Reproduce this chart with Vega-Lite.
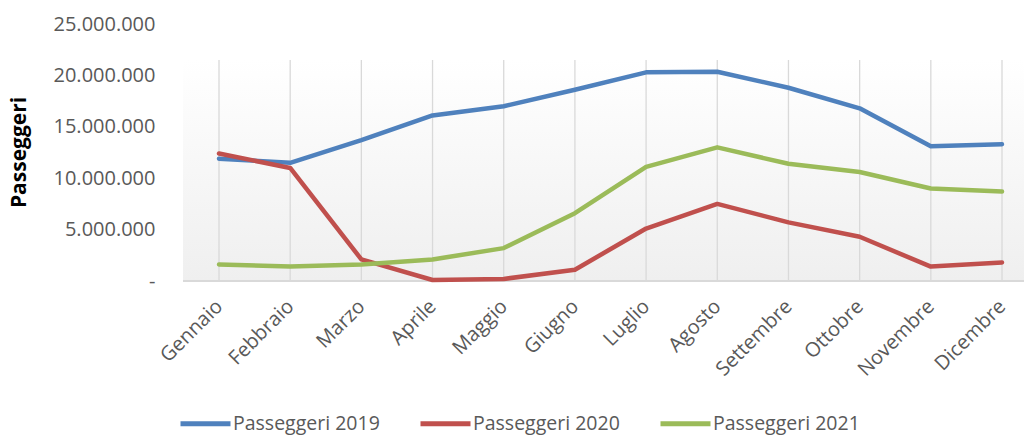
{
  "$schema": "https://vega.github.io/schema/vega-lite/v6.json",
  "autosize": {"type": "none"},
  "width": 841,
  "height": 257,
  "padding": {"left": 183, "top": 24, "right": 0, "bottom": 155},
  "config": {
    "font": "Open Sans",
    "view": {"stroke": null},
    "locale": {"number": {"decimal": ",", "thousands": ".", "grouping": [3], "currency": ["€", ""]}}
  },
  "data": {
    "values": [
      {"mese": "Gennaio", "Passeggeri 2019": 11900000, "Passeggeri 2020": 12400000, "Passeggeri 2021": 1600000},
      {"mese": "Febbraio", "Passeggeri 2019": 11500000, "Passeggeri 2020": 11000000, "Passeggeri 2021": 1400000},
      {"mese": "Marzo", "Passeggeri 2019": 13700000, "Passeggeri 2020": 2100000, "Passeggeri 2021": 1600000},
      {"mese": "Aprile", "Passeggeri 2019": 16100000, "Passeggeri 2020": 100000, "Passeggeri 2021": 2100000},
      {"mese": "Maggio", "Passeggeri 2019": 17000000, "Passeggeri 2020": 200000, "Passeggeri 2021": 3200000},
      {"mese": "Giugno", "Passeggeri 2019": 18600000, "Passeggeri 2020": 1100000, "Passeggeri 2021": 6600000},
      {"mese": "Luglio", "Passeggeri 2019": 20300000, "Passeggeri 2020": 5100000, "Passeggeri 2021": 11100000},
      {"mese": "Agosto", "Passeggeri 2019": 20350000, "Passeggeri 2020": 7500000, "Passeggeri 2021": 13000000},
      {"mese": "Settembre", "Passeggeri 2019": 18800000, "Passeggeri 2020": 5700000, "Passeggeri 2021": 11400000},
      {"mese": "Ottobre", "Passeggeri 2019": 16800000, "Passeggeri 2020": 4300000, "Passeggeri 2021": 10600000},
      {"mese": "Novembre", "Passeggeri 2019": 13100000, "Passeggeri 2020": 1400000, "Passeggeri 2021": 9000000},
      {"mese": "Dicembre", "Passeggeri 2019": 13300000, "Passeggeri 2020": 1800000, "Passeggeri 2021": 8700000}
    ]
  },
  "encoding": {
    "x": {
      "field": "mese",
      "type": "ordinal",
      "sort": null,
      "scale": {"type": "point", "range": [36, 819], "padding": 0},
      "axis": {
        "title": null,
        "domain": false,
        "ticks": false,
        "grid": false,
        "labelAngle": -45,
        "labelAlign": "right",
        "labelBaseline": "middle",
        "labelPadding": 22,
        "labelFontSize": 20,
        "labelColor": "#595959"
      }
    }
  },
  "layer": [
    {
      "data": {"values": [{"zona": "sfondo"}]},
      "mark": {
        "type": "rect",
        "color": {
          "gradient": "linear",
          "x1": 0, "y1": 0, "x2": 0, "y2": 1,
          "stops": [
            {"offset": 0, "color": "#ffffff"},
            {"offset": 1, "color": "#efefef"}
          ]
        }
      },
      "encoding": {
        "x": null,
        "y": {"datum": 0, "type": "quantitative", "scale": {"domain": [0, 25000000], "nice": false}},
        "y2": {"datum": 21500000}
      }
    },
    {
      "mark": {"type": "rule", "color": "#d9d9d9", "strokeWidth": 1.3},
      "encoding": {
        "y": {"datum": 0, "type": "quantitative"},
        "y2": {"datum": 21500000}
      }
    },
    {
      "data": {"values": [{"zona": "base"}]},
      "mark": {"type": "rule", "color": "#d9d9d9", "strokeWidth": 2},
      "encoding": {
        "x": null,
        "y": {"datum": 0, "type": "quantitative"}
      }
    },
    {
      "transform": [
        {"fold": ["Passeggeri 2019", "Passeggeri 2020", "Passeggeri 2021"], "as": ["serie", "valore"]}
      ],
      "mark": {"type": "line", "strokeWidth": 4.5, "strokeJoin": "round", "strokeCap": "round"},
      "encoding": {
        "y": {
          "field": "valore",
          "type": "quantitative",
          "scale": {"domain": [0, 25000000], "nice": false},
          "axis": {
            "title": "Passeggeri",
            "titleFontSize": 21,
            "titleFontWeight": "bold",
            "titleColor": "#000000",
            "titleAngle": -90,
            "titleAlign": "center",
            "titleBaseline": "bottom",
            "titleX": -154,
            "titleY": 128,
            "values": [0, 5000000, 10000000, 15000000, 20000000, 25000000],
            "format": ",d",
            "labelExpr": "datum.value == 0 ? '-\u00a0\u00a0' : datum.label",
            "domain": false,
            "ticks": false,
            "tickSize": 0,
            "grid": false,
            "labelPadding": 28,
            "labelFontSize": 20,
            "labelColor": "#595959"
          }
        },
        "color": {
          "field": "serie",
          "type": "nominal",
          "scale": {
            "domain": ["Passeggeri 2019", "Passeggeri 2020", "Passeggeri 2021"],
            "range": ["#4f81bd", "#c0504d", "#9bbb59"]
          },
          "legend": {
            "title": null,
            "orient": "none",
            "direction": "horizontal",
            "legendX": 10,
            "legendY": 387,
            "symbolType": "M-2.5,0H2.5",
            "symbolSize": 400,
            "symbolStrokeWidth": 5,
            "labelFontSize": 19.5,
            "labelColor": "#595959",
            "labelOffset": 15,
            "columnPadding": 30
          }
        }
      }
    }
  ]
}
